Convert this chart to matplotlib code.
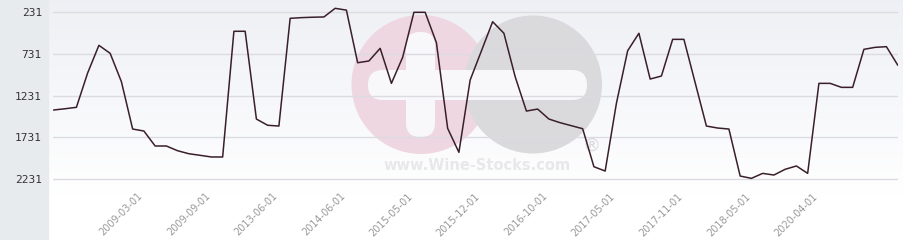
import matplotlib.pyplot as plt
import matplotlib.transforms as mtransforms
import numpy as np
from matplotlib.patches import Rectangle, Circle, FancyBboxPatch

# rank values, one per point (lower is better, axis is reversed)
ranks = [1405, 1390, 1373, 960, 628, 724, 1065, 1634, 1658, 1838,
         1838, 1895, 1931, 1950, 1970, 1970, 459, 459, 1514, 1589,
         1598, 303, 295, 290, 287, 183, 205, 837, 816, 664,
         1085, 772, 231, 231, 596, 1626, 1914, 1045, 695, 344,
         483, 1005, 1418, 1394, 1514, 1558, 1594, 1630, 2087, 2139,
         1325, 693, 483, 1033, 997, 556, 556, 1077, 1598, 1622,
         1634, 2199, 2227, 2167, 2187, 2118, 2078, 2167, 1085, 1085,
         1133, 1133, 676, 652, 644, 864]
date_labels = ["2009-03-01", "2009-09-01", "2013-06-01", "2014-06-01",
               "2015-05-01", "2015-12-01", "2016-10-01", "2017-05-01",
               "2017-11-01", "2018-05-01", "2020-04-01"]
label_pos = [8, 14, 20, 26, 32, 38, 44, 50, 56, 62, 68]
y_ticks = [231, 731, 1231, 1731, 2231]

W, H = 904, 240
fig = plt.figure(figsize=(W / 100, H / 100), dpi=100)
fig.patch.set_facecolor("white")

# grey strip on the left
fig.patches.append(Rectangle((0, 0), 48 / W, 1, transform=fig.transFigure,
                             color="#e8ebee", zorder=0))

# gradient background of the plot area
bg = fig.add_axes([49 / W, 1 - 198 / H, (W - 49) / W, 198 / H], zorder=0)
grad = np.linspace(0, 1, 100).reshape(-1, 1)
top = np.array([0.933, 0.941, 0.960])
bot = np.array([1.0, 1.0, 1.0])
img = top + (bot - top) * grad[:, :, None]
bg.imshow(img, aspect="auto", extent=[0, 1, 0, 1])
bg.axis("off")

# watermark, in pixel coordinates
wm = fig.add_axes([0, 0, 1, 1], zorder=1)
wm.set_xlim(0, W)
wm.set_ylim(H, 0)
wm.axis("off")
wm.patch.set_alpha(0)
wm.add_patch(Circle((421, 84.5), 69.5, color="#eed7e0", lw=0))
wm.add_patch(Circle((533, 84.5), 69, color="#dadadd", lw=0))
wm.add_patch(FancyBboxPatch((368, 70), 219, 30,
                            boxstyle="round,pad=0,rounding_size=15",
                            fc="#f8f8fb", ec="none"))
wm.add_patch(FancyBboxPatch((406, 32), 29, 105,
                            boxstyle="round,pad=0,rounding_size=14",
                            fc="#f8f8fb", ec="none"))
wm.text(477, 166, "www.Wine-Stocks.com", ha="center", va="center",
        fontsize=10.5, fontweight="bold", color="#e8e8ea")
wm.text(592, 146, "\u00ae", ha="center", va="center", fontsize=13,
        color="#dadadd")

# main chart
ax = fig.add_axes([53 / W, 1 - 196 / H, 845 / W, 196 / H], zorder=2)
ax.patch.set_alpha(0)
x = np.arange(len(ranks))
ax.plot(x, ranks, color="#3a1f2b", lw=1.1, zorder=3)
ax.set_xlim(-0.08, 75.03)
ax.set_ylim(2439, 83)
ax.set_yticks(y_ticks)
ax.set_yticklabels([str(v) for v in y_ticks], family="DejaVu Sans Mono",
                   fontsize=8, color="#333333")
ax.grid(axis="y", color="#dcdce0", lw=1)
ax.set_axisbelow(True)
ax.set_xticks(label_pos)
ax.set_xticklabels(date_labels, rotation=45, ha="right", va="center",
                   rotation_mode="anchor", fontsize=7, color="#999999")
ax.tick_params(axis="y", length=0, pad=8)
ax.tick_params(axis="x", length=0, pad=-1)
shift = mtransforms.ScaledTranslation(-3 / 100, 0, fig.dpi_scale_trans)
for lab in ax.get_xticklabels():
    lab.set_transform(lab.get_transform() + shift)
for s in ax.spines.values():
    s.set_visible(False)

fig.savefig("out.png", dpi=100)
